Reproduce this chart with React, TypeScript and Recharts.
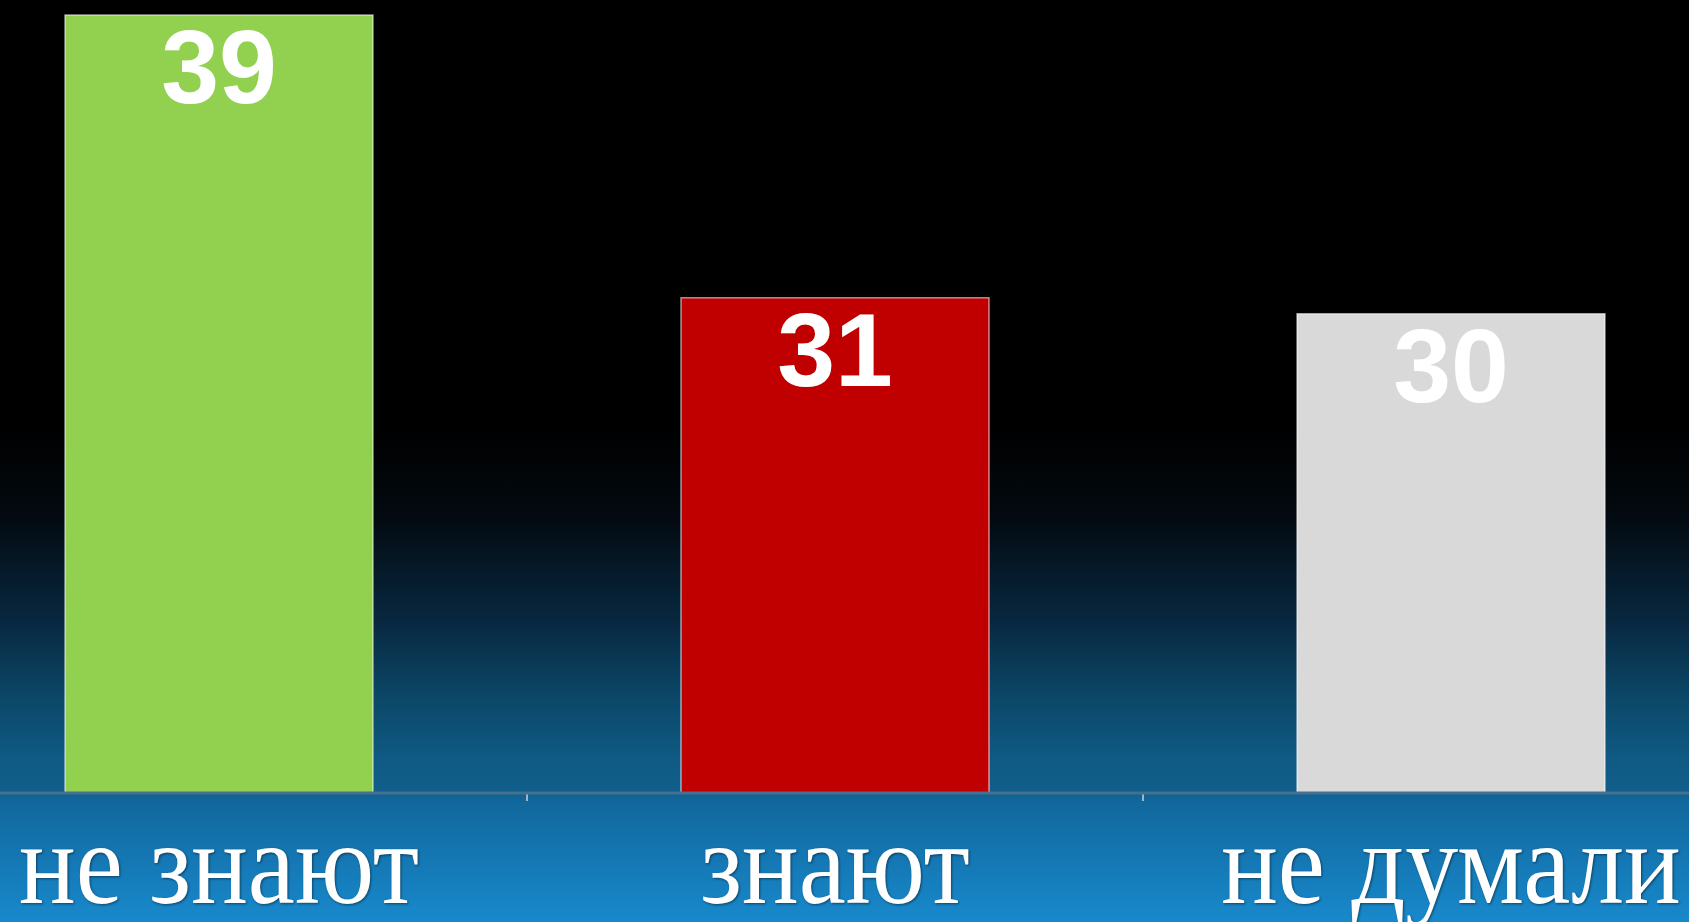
import { BarChart, Bar, XAxis, YAxis, Cell, LabelList, ReferenceLine } from "recharts";

// categories and printed values
const categories = ["не знают", "знают", "не думали"];
const valueLabels = ["39", "31", "30"];
// bar heights as drawn (the green bar is drawn taller than its printed 39)
const barValues = [48.7, 31, 30];
const barColors = ["#92d050", "#c00000", "#d9d9d9"];
// category boundaries that carry the small tick marks
const bandEdges = [1, 2];

// pos = band centre on a 0..3 numeric scale, used only for the edge ticks
const data = categories.map((name, i) => ({ name, pos: i + 0.5, value: barValues[i], label: valueLabels[i] }));

const CategoryTick = (props: any) => {
  const { x, y, payload } = props;
  return (
    <g transform={`translate(${x},${y + 102}) scale(1,1.1)`}>
      <text
        x={0}
        y={0}
        textAnchor="middle"
        fill="#ffffff"
        fontFamily="'Liberation Serif', 'Times New Roman', serif"
        fontSize={106}
        style={{ filter: "drop-shadow(1px 1px 1px rgba(0,0,0,0.45))" }}
      >
        {payload.value}
      </text>
    </g>
  );
};

const ValueLabel = (props: any) => {
  const { x, y, width, index } = props;
  return (
    <text
      x={x + width / 2}
      y={y + 88}
      textAnchor="middle"
      fill="#ffffff"
      fontFamily="'Liberation Sans', Arial, sans-serif"
      fontWeight="bold"
      fontSize={104}
    >
      {valueLabels[index]}
    </text>
  );
};

export default function App() {
  return (
    <div
      style={{
        position: "fixed",
        left: 0,
        top: 0,
        width: 1689,
        height: 922,
        overflow: "hidden",
        background:
          "linear-gradient(to bottom, #000000 0%, #000000 46%, #030a10 56%, #082840 67.5%, #0b4565 75%, #0f5a84 82.4%, #105e8a 85.8%, #11679c 86.8%, #1889cc 100%)",
      }}
    >
      <div style={{ position: "absolute", left: -89, top: 0 }}>
        <BarChart
          width={1848}
          height={922}
          data={data}
          margin={{ top: 15, right: 0, left: 0, bottom: 0 }}
          barCategoryGap="25%"
        >
          <XAxis
            dataKey="name"
            height={129}
            interval={0}
            tickLine={false}
            axisLine={{ stroke: "#45708f", strokeWidth: 3 }}
            tick={<CategoryTick />}
          />
          <XAxis xAxisId="edges" dataKey="pos" type="number" domain={[0, 3]} allowDataOverflow hide />
          <YAxis hide domain={[0, 48.7]} />
          <Bar dataKey="value" isAnimationActive={false} stroke="rgba(255,255,255,0.55)" strokeWidth={1.5}>
            {data.map((d, i) => (
              <Cell key={d.name} fill={barColors[i]} />
            ))}
            <LabelList dataKey="label" content={<ValueLabel />} />
          </Bar>
          {bandEdges.map((e) => (
            <ReferenceLine
              key={e}
              xAxisId="edges"
              ifOverflow="visible"
              segment={[
                { x: e, y: 0 },
                { x: e, y: -0.5 },
              ]}
              stroke="#9fb6c6"
              strokeWidth={2}
            />
          ))}
        </BarChart>
      </div>
    </div>
  );
}
